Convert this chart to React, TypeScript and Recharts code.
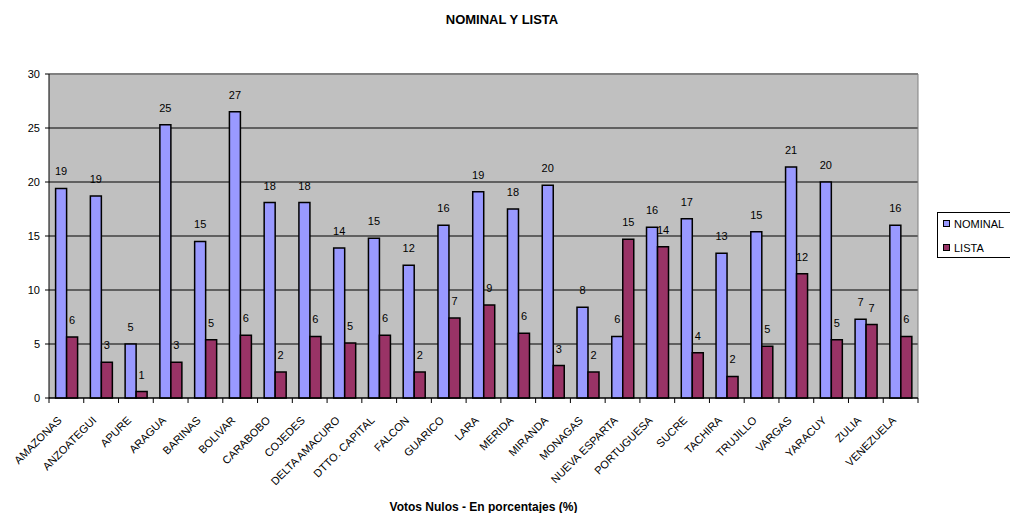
import { BarChart, Bar, XAxis, YAxis, CartesianGrid, ReferenceLine, LabelList } from 'recharts';

// Votos nulos por entidad (%)
const ESTADOS = [
    'AMAZONAS', 'ANZOATEGUI', 'APURE', 'ARAGUA', 'BARINAS', 'BOLIVAR', 'CARABOBO', 'COJEDES',
    'DELTA AMACURO', 'DTTO. CAPITAL', 'FALCON', 'GUARICO', 'LARA', 'MERIDA', 'MIRANDA', 'MONAGAS',
    'NUEVA ESPARTA', 'PORTUGUESA', 'SUCRE', 'TACHIRA', 'TRUJILLO', 'VARGAS', 'YARACUY', 'ZULIA', 'VENEZUELA',
];
const NOMINAL = [
    19.4, 18.7, 5.0, 25.3, 14.5, 26.5, 18.1, 18.1,
    13.9, 14.8, 12.3, 16.0, 19.1, 17.5, 19.7, 8.4,
    5.7, 15.8, 16.6, 13.4, 15.4, 21.4, 20.0, 7.3, 16.0,
];
const LISTA = [
    5.65, 3.3, 0.6, 3.3, 5.4, 5.8, 2.4, 5.7,
    5.1, 5.8, 2.4, 7.4, 8.6, 6.0, 3.0, 2.4,
    14.7, 14.0, 4.2, 2.0, 4.8, 11.5, 5.4, 6.8, 5.7,
];
const Y_TICKS = [0, 5, 10, 15, 20, 25, 30];

const NOMINAL_COLOR = '#9999FF';
const LISTA_COLOR = '#993366';
const FONT = "Arial, 'Liberation Sans', sans-serif";

const data = ESTADOS.map((estado, i) => ({ estado, nominal: NOMINAL[i], lista: LISTA[i] }));

// Category ticks: boundary marks between states plus rotated names
const EstadoTick = (props: any) => {
    const { x, y, payload, index, visibleTicksCount } = props;
    const half = payload.offset || 17;
    const isLast = index === visibleTicksCount - 1;
    const tx = x - 4;
    const ty = y + 23;
    return (
        <g>
            <line x1={x - half} y1={y} x2={x - half} y2={y + 5} stroke="#000" />
            {isLast && <line x1={x + half} y1={y} x2={x + half} y2={y + 5} stroke="#000" />}
            <text
                x={tx}
                y={ty}
                textAnchor="end"
                transform={`rotate(-45, ${tx}, ${ty})`}
                fontSize={11}
                fontFamily={FONT}
                fill="#000"
            >
                {payload.value}
            </text>
        </g>
    );
};

const legendItems = [
    { name: 'NOMINAL', color: NOMINAL_COLOR, top: 6 },
    { name: 'LISTA', color: LISTA_COLOR, top: 30 },
];

export default function App() {
    return (
        <div style={{ position: 'absolute', left: 0, top: 0, width: 1010, height: 513, overflow: 'hidden', background: '#fff', fontFamily: FONT }}>
            <div style={{ position: 'absolute', left: 0, width: 1004, top: 13, textAlign: 'center', fontSize: 13, lineHeight: '13px', fontWeight: 'bold' }}>
                NOMINAL Y LISTA
            </div>
            <BarChart
                width={1010}
                height={513}
                data={data}
                margin={{ top: 74, right: 92, bottom: 0, left: 9 }}
                barGap={0}
                barCategoryGap="19%"
            >
                <CartesianGrid fill="#C0C0C0" stroke="#000" vertical={false} />
                <CartesianGrid
                    stroke="#808080"
                    horizontal={false}
                    verticalCoordinatesGenerator={({ offset }: any) => [offset.left + offset.width]}
                />
                <ReferenceLine y={30} stroke="#808080" strokeWidth={2} />
                <XAxis
                    dataKey="estado"
                    interval={0}
                    height={115}
                    tickSize={0}
                    tickMargin={0}
                    tickLine={false}
                    axisLine={{ stroke: '#000' }}
                    tick={<EstadoTick />}
                />
                <YAxis
                    width={40}
                    domain={[0, 30]}
                    ticks={Y_TICKS}
                    interval={0}
                    tickSize={4}
                    tickMargin={5}
                    axisLine={{ stroke: '#000' }}
                    tickLine={{ stroke: '#000' }}
                    tick={{ fontSize: 11, fill: '#000', fontFamily: FONT }}
                />
                <Bar dataKey="nominal" name="NOMINAL" fill={NOMINAL_COLOR} stroke="#000" strokeWidth={1.5} isAnimationActive={false}>
                    <LabelList dataKey="nominal" position="top" offset={13} formatter={(v: any) => Math.round(v)} fontSize={11} fill="#000" fontFamily={FONT} />
                </Bar>
                <Bar dataKey="lista" name="LISTA" fill={LISTA_COLOR} stroke="#000" strokeWidth={1.5} isAnimationActive={false}>
                    <LabelList dataKey="lista" position="top" offset={13} formatter={(v: any) => Math.round(v)} fontSize={11} fill="#000" fontFamily={FONT} />
                </Bar>
            </BarChart>
            <div style={{ position: 'absolute', left: 0, width: 967, top: 501, textAlign: 'center', fontSize: 12, lineHeight: '12px', fontWeight: 'bold' }}>
                Votos Nulos - En porcentajes (%)
            </div>
            <div style={{ position: 'absolute', left: 937, top: 212, width: 90, height: 44, border: '1px solid #000', background: '#fff', fontSize: 11, lineHeight: '11px' }}>
                {legendItems.map((item) => (
                    <div key={item.name} style={{ position: 'absolute', left: 5, top: item.top, whiteSpace: 'nowrap' }}>
                        <span style={{ position: 'absolute', left: 0, top: 1, width: 5, height: 5, background: item.color, border: '1.5px solid #000' }} />
                        <span style={{ position: 'absolute', left: 11, top: 0 }}>{item.name}</span>
                    </div>
                ))}
            </div>
        </div>
    );
}
